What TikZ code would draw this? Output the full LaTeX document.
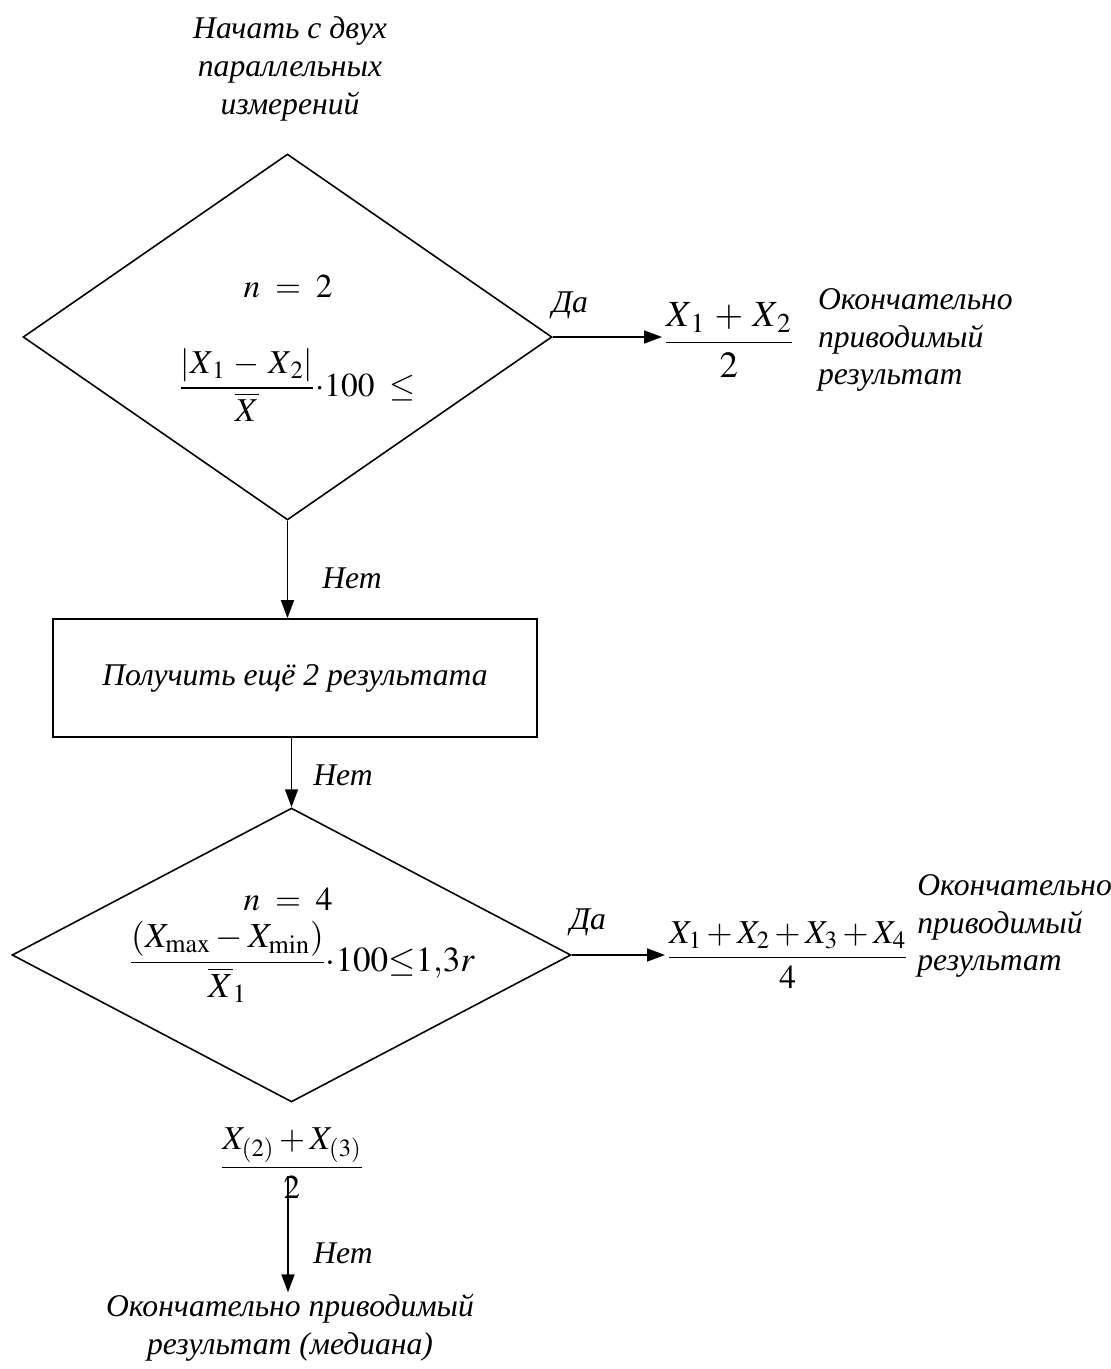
\documentclass[tikz,border=0pt]{standalone}
\usepackage{amsmath}
\usepackage{mathptmx}
\usepackage[no-math]{fontspec}
\setmainfont{Liberation Serif}
\newfontfamily\bsserif{Liberation Serif}
\usepackage{tikz}
\usetikzlibrary{
  arrows.meta,
  shapes.geometric,
  positioning,
  calc
}
\tikzset{
  bstext/.style={font={\bsserif\fontsize{18}{21.5}\selectfont\itshape}, align=center, inner sep=1pt},
  bsnote/.style={bstext, align=left},
  bsmath/.style={font=\fontsize{19}{23}\selectfont, inner sep=1pt},
  bsbig/.style={font=\fontsize{21}{25}\selectfont, inner sep=1pt},
  decision/.style={draw, diamond, line width=0.9pt, inner sep=0pt},
  stepbox/.style={draw, rectangle, line width=0.9pt},
  flow/.style={-{Triangle[length=3.6mm, width=2.6mm]}, line width=0.9pt},
  tag/.style={bstext}
}

\begin{document}
\begin{tikzpicture}[x=0.02cm, y=-0.02cm, node distance=2mm]
  \useasboundingbox (0,0) rectangle (1111,1369);
  % first check, two results
  \node[bstext] (start) at (290,69) {Начать с двух\\параллельных\\измерений};
  \node[decision, minimum width=10.58cm, minimum height=7.32cm] (d1) at (287.5,337) {};
  \node[bsmath] (n2) at (288,287) {$n\;=\;2$};
  \node[bsmath] (f1) at (297,385) {$\dfrac{\left|X_{\,1}\,-\,X_{\,2}\right|}{\overline{X}}{\cdot}100\;\le$};
  \node[bsbig, anchor=west] (res1) at (662,340) {$\dfrac{X_{\,1}\,+\,X_{\,2}}{2}$};
  \node[bsnote, right=4mm of res1] (note1) {Окончательно\\приводимый\\результат};
  \node[tag] (yes1) at (570,305) {Да};
  \node[tag] (no1) at (352,578) {Нет};
  \node[bstext, stepbox, minimum width=9.68cm, minimum height=2.36cm] (more) at (295,678) {Получить ещё 2 результата};
  % second check, four results
  \node[tag] (no2) at (343,775) {Нет};
  \node[decision, minimum width=11.18cm, minimum height=5.88cm] (d2) at (291.5,955) {};
  \node[bsmath] (n4) at (288,900) {$n\;=\;4$};
  \node[bsmath, font=\fontsize{20}{24}\selectfont] (f2) at (302,962) {$\dfrac{(X_{\max}-X_{\min})}{\overline{X}_1}{\cdot}100{\le}1{,}3r$};
  \node[bsmath, anchor=west] (res2) at (665,955) {$\dfrac{X_1+X_2+X_3+X_4}{4}$};
  \node[bsnote, anchor=west] (note2) at ([xshift=1mm]res2.east |- 0,926) {Окончательно\\приводимый\\результат};
  \node[tag] (yes2) at (588,922) {Да};
  % median
  \node[bsmath] (med) at (292,1163) {$\dfrac{X_{(2)}+X_{(3)}}{2}$};
  \coordinate (mtail) at (288,1176);
  \node[tag] (no3) at (343,1253) {Нет};
  \node[bstext] (final) at (290,1328) {Окончательно приводимый\\результат (медиана)};

  \draw[flow] (d1.east) -- (d1.east -| res1.west);
  \draw[flow] (d1.south) -- (d1.south |- more.north);
  \draw[flow] (more.south -| d2.north) -- (d2.north);
  \draw[flow] (d2.east) -- (res2.west);
  \draw[flow] (mtail) -- (mtail |- final.north);
\end{tikzpicture}
\end{document}
